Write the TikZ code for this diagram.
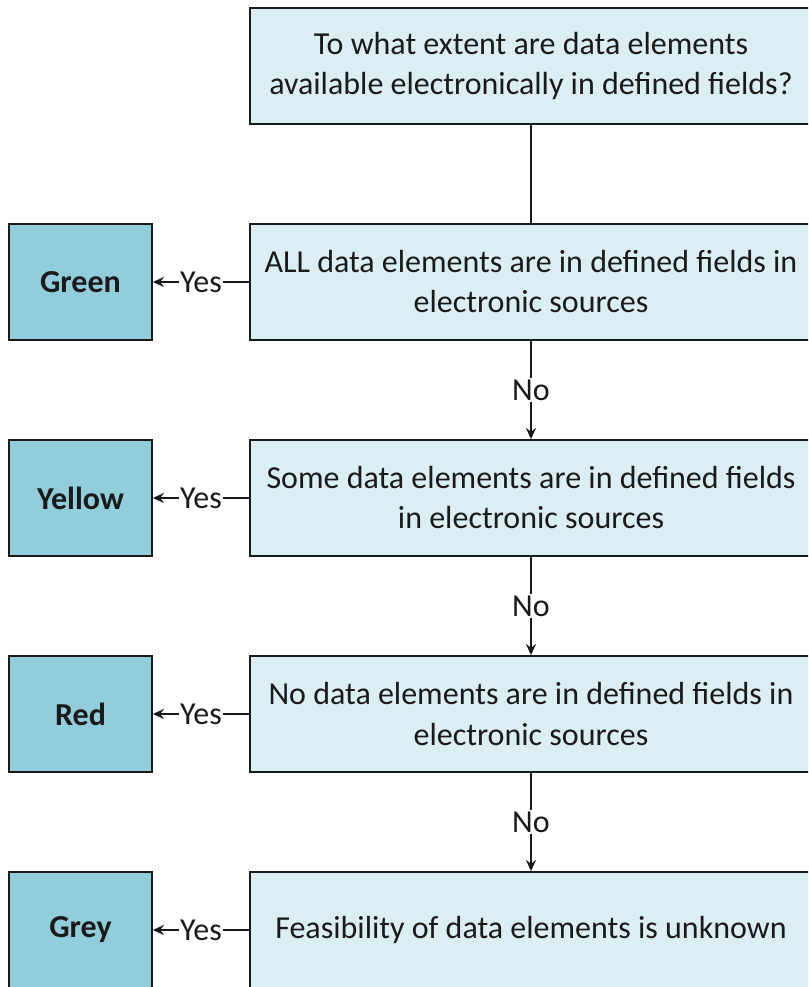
\documentclass[tikz,border=0pt]{standalone}
\usepackage{fontspec}
\setmainfont{Carlito}
\usetikzlibrary{arrows.meta}
\definecolor{qfill}{HTML}{DAEEF3}
\definecolor{afill}{HTML}{92CDDC}
\definecolor{ink}{HTML}{1A1A1A}
\tikzset{
  question/.style={draw=ink, line width=1.8pt, fill=qfill, minimum width=562pt,
    minimum height=116pt, align=center, inner sep=0pt, text=ink,
    font=\fontsize{32}{40}\selectfont},
  answer/.style={draw=ink, line width=1.8pt, fill=afill, minimum width=143pt,
    minimum height=116pt, inner sep=0pt, text=ink,
    font=\fontsize{32}{40}\selectfont\bfseries},
  link/.style={draw=ink, line width=1.8pt, -{Stealth[length=11pt,width=10pt]}},
  plain/.style={draw=ink, line width=1.8pt},
  lbl/.style={fill=white, inner sep=1.5pt, text=ink,
    font=\fontsize{32}{40}\selectfont}
}
\begin{document}
\begin{tikzpicture}[x=1pt, y=-1pt]
  \useasboundingbox (0,0) rectangle (808,987);
  \clip (0,0) rectangle (808,987);
  \fill[white] (0,0) rectangle (808,987);

  % question column
  \node[question] (q0) at (531,66) {To what extent are data elements\\available electronically in defined fields?};
  \node[question] (q1) at (531,282) {ALL data elements are in defined fields in\\electronic sources};
  \node[question] (q2) at (531,498) {Some data elements are in defined fields\\in electronic sources};
  \node[question] (q3) at (531,714) {No data elements are in defined fields in\\electronic sources};
  \node[question] (q4) at (531,930) {Feasibility of data elements is unknown};

  % rating column
  \node[answer] (a1) at (80.5,282) {Green};
  \node[answer] (a2) at (80.5,498) {Yellow};
  \node[answer] (a3) at (80.5,714) {Red};
  \node[answer] (a4) at (80.5,930) {Grey};

  % vertical flow
  \draw[plain] (q0) -- (q1);
  \draw[link] (q1) -- node[lbl] {No} (q2);
  \draw[link] (q2) -- node[lbl] {No} (q3);
  \draw[link] (q3) -- node[lbl] {No} (q4);

  % yes branches
  \draw[link] (q1) -- node[lbl] {Yes} (a1);
  \draw[link] (q2) -- node[lbl] {Yes} (a2);
  \draw[link] (q3) -- node[lbl] {Yes} (a3);
  \draw[link] (q4) -- node[lbl] {Yes} (a4);
\end{tikzpicture}
\end{document}
